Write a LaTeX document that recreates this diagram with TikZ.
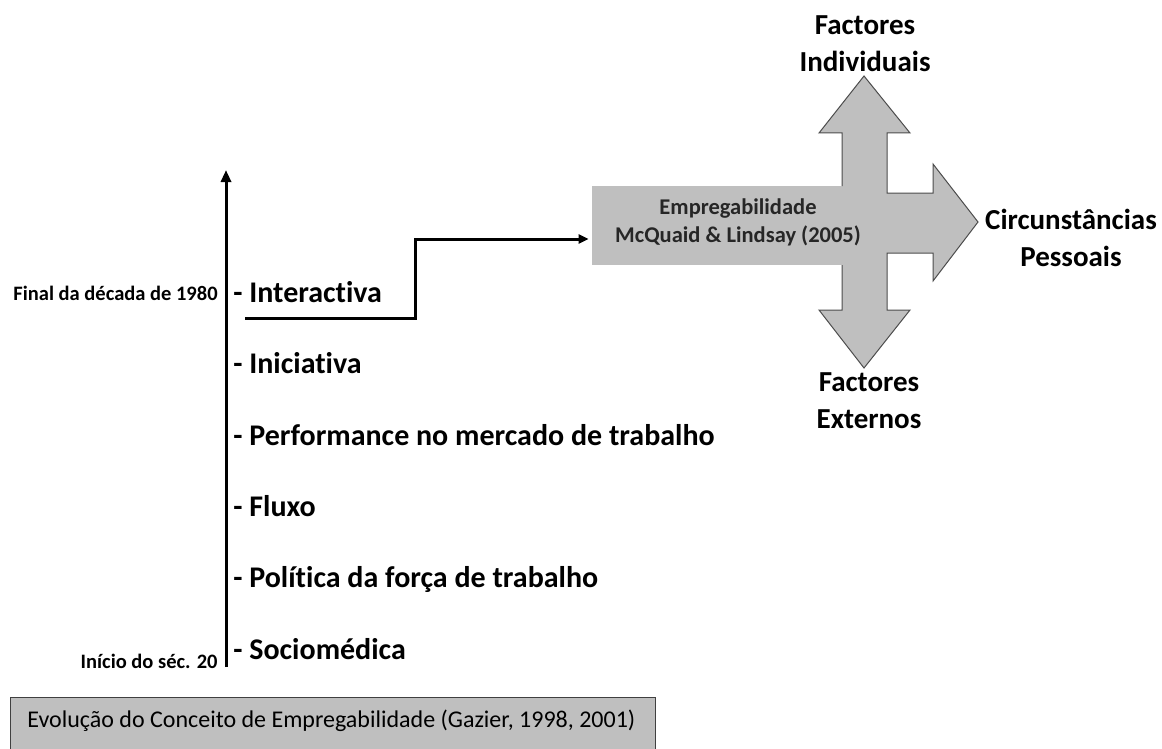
\documentclass[tikz,border=0pt]{standalone}
\usepackage{fontspec}
\setmainfont{Carlito}[Ligatures=NoCommon]
\usetikzlibrary{arrows.meta}
\tikzset{stage/.style={anchor=base west, inner sep=0pt, font=\fontsize{30}{36}\selectfont\bfseries},
         era/.style={anchor=base east, inner sep=0pt, font=\fontsize{20.5}{24}\selectfont\bfseries},
         factor/.style={align=center, inner sep=0pt, font=\fontsize{29}{37}\selectfont\bfseries},
         shade/.style={fill=black!25}}

\begin{document}
\begin{tikzpicture}[x=1pt, y=-1pt, thick]
    \useasboundingbox (0,0) rectangle (1162,749);

    % time axis
    \coordinate (axisbot) at (226,667);
    \coordinate (axistop) at (226,170);
    \draw [line width=3pt, -{Triangle[length=12pt,width=10pt]}] (axisbot) -- (axistop);

    \node [era] (final) at (218,300) {Final da década de 1980};
    \node [era] (inicio) at (218,668) {Início do séc. 20};

    \foreach \y/\name/\txt in {302/interactiva/Interactiva, 373/iniciativa/Iniciativa,
                               445/performance/Performance no mercado de trabalho,
                               516/fluxo/Fluxo, 587/politica/Política da força de trabalho,
                               659/sociomedica/Sociomédica} {
        \node [stage] (\name) at (233,\y) {- \txt};
    }

    % cross arrow
    \fill [shade] (842,186) -- (842,133) -- (819,133) -- (864,76) -- (910,133) -- (887,133)
        -- (887,193) -- (933,193) -- (933,164) -- (978,222) -- (933,281) -- (933,253)
        -- (887,253) -- (887,310) -- (910,310) -- (864,368) -- (819,310) -- (842,310)
        -- (842,265) -- cycle;
    \draw [black!70, line width=1pt] (842,186) -- (842,133) -- (819,133) -- (864,76) -- (910,133) -- (887,133)
        -- (887,193) -- (933,193) -- (933,164) -- (978,222) -- (933,281) -- (933,253)
        -- (887,253) -- (887,310) -- (910,310) -- (864,368) -- (819,310) -- (842,310)
        -- (842,265);

    \node [shade, inner sep=0pt, minimum width=250pt, minimum height=79pt] (empreg) at (717,225.5) {};
    \node [align=center, text=black!85, font=\fontsize{22.5}{28}\selectfont\bfseries] (emptext) at (738,222)
        {Empregabilidade\\McQuaid \& Lindsay (2005)};

    \node [factor] (individuais) at (865,44) {Factores\\Individuais};
    \node [factor] (pessoais) at (1071,238) {Circunstâncias\\Pessoais};
    \node [factor] (externos) at (869,401) {Factores\\Externos};

    % link from the last stage
    \coordinate (linkstart) at (245,318);
    \coordinate (linkbend) at (415,239);
    \draw [line width=3pt, -{Triangle[length=10pt,width=9pt]}, shorten >=3pt]
        (linkstart) -| (linkbend) -- (linkbend -| empreg.west);

    % caption box
    \draw [shade, draw=black!75, line width=1pt] (10,697) rectangle (655,760);
    \node [anchor=base west, inner sep=0pt, font=\fontsize{24}{28}\selectfont] (gazier) at (27,727)
        {Evolução do Conceito de Empregabilidade (Gazier, 1998, 2001)};

\end{tikzpicture}
\end{document}
